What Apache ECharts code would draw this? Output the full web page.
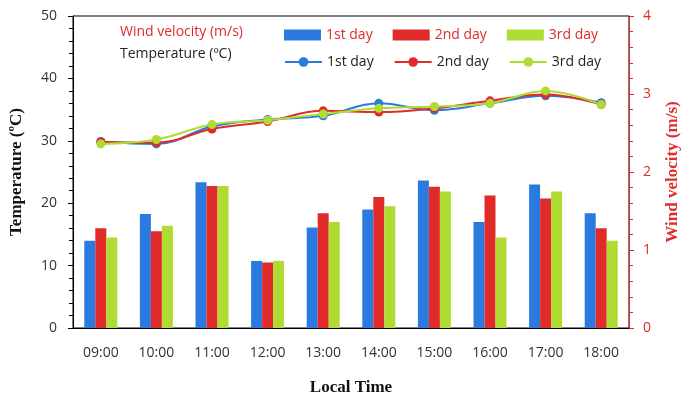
<!DOCTYPE html>
<html>
<head>
<meta charset="utf-8">
<script src="https://cdn.jsdelivr.net/npm/echarts@6/dist/echarts.min.js"></script>
<style>
  html, body { margin: 0; padding: 0; background: #fff; }
  #chart { width: 681px; height: 396px; }
</style>
</head>
<body>
<div id="chart"></div>
<script>
const hours = ["09:00", "10:00", "11:00", "12:00", "13:00", "14:00", "15:00", "16:00", "17:00", "18:00"];
const dayNames = ["1st day", "2nd day", "3rd day"];

// wind velocity (m/s), bars, right axis
const wind1 = [1.12, 1.46, 1.87, 0.86, 1.29, 1.52, 1.89, 1.36, 1.84, 1.47];
const wind2 = [1.28, 1.24, 1.82, 0.84, 1.47, 1.68, 1.81, 1.70, 1.66, 1.28];
const wind3 = [1.16, 1.31, 1.82, 0.86, 1.36, 1.56, 1.75, 1.16, 1.75, 1.12];

// temperature (°C), lines, left axis
const temp1 = [29.9, 29.5, 32.3, 33.4, 34.0, 36.0, 34.9, 36.0, 37.2, 36.1];
const temp2 = [29.8, 29.7, 31.9, 33.1, 34.8, 34.6, 35.2, 36.4, 37.4, 35.8];
const temp3 = [29.5, 30.2, 32.6, 33.3, 34.3, 35.2, 35.5, 36.0, 38.0, 35.8];

const colors = ["#2a7ae0", "#e12b2b", "#aedc32"];
const tickFont = { fontFamily: "Open Sans", fontSize: 14 };

const chart = echarts.init(document.getElementById("chart"));

const barSeries = [wind1, wind2, wind3].map((d, i) => ({
  name: "w" + i,
  type: "bar",
  yAxisIndex: 1,
  data: d,
  barWidth: 11,
  barGap: "0%",
  itemStyle: { color: colors[i] },
  emphasis: { disabled: true },
}));

const lineSeries = [temp1, temp2, temp3].map((d, i) => ({
  name: "t" + i,
  type: "line",
  yAxisIndex: 0,
  data: d,
  smooth: 0.4,
  symbol: "circle",
  symbolSize: 9,
  lineStyle: { color: colors[i], width: 2 },
  itemStyle: { color: colors[i] },
  emphasis: { disabled: true },
}));

chart.setOption({
  animation: false,
  grid: {
    left: 73, right: 52, top: 16, bottom: 68,
    outerBoundsMode: "none",
    containLabel: false,
    show: true, borderColor: "#000", borderWidth: 1,
  },
  legend: [
    {
      data: ["w0", "w1", "w2"],
      formatter: (n) => dayNames[+n[1]],
      left: 279, top: 23,
      icon: "rect",
      itemWidth: 37, itemHeight: 11, itemGap: 20,
      selectedMode: false,
      textStyle: { color: "#e12b2b", fontFamily: "Open Sans", fontSize: 14 },
    },
    {
      data: ["t0", "t1", "t2"],
      formatter: (n) => dayNames[+n[1]],
      left: 279, top: 50,
      itemWidth: 37, itemHeight: 12, itemGap: 20,
      selectedMode: false,
      textStyle: { color: "#222", fontFamily: "Open Sans", fontSize: 14 },
    },
  ],
  graphic: [
    { type: "text", left: 120, top: 25, style: { text: "Wind velocity (m/s)", fill: "#e12b2b", font: "14px 'Open Sans'" } },
    { type: "text", left: 120, top: 47, style: { text: "Temperature (\u00baC)", fill: "#222", font: "14px 'Open Sans'" } },
  ],
  xAxis: {
    type: "category",
    data: hours,
    name: "Local Time",
    nameLocation: "middle",
    nameGap: 51,
    nameTextStyle: { fontFamily: "Liberation Serif", fontWeight: "bold", fontSize: 17, color: "#111" },
    axisLine: { lineStyle: { color: "#000" } },
    axisTick: { alignWithLabel: true, length: 5, lineStyle: { color: "#000" } },
    axisLabel: { color: "#333", margin: 18, ...tickFont },
  },
  yAxis: [
    {
      type: "value",
      min: 0, max: 50, interval: 10,
      name: "Temperature (\u00baC)",
      nameLocation: "middle",
      nameGap: 48,
      nameTextStyle: { fontFamily: "Liberation Serif", fontWeight: "bold", fontSize: 17, color: "#111" },
      axisLine: { show: true, lineStyle: { color: "#000" } },
      axisTick: { show: true, length: 5, lineStyle: { color: "#000" } },
      minorTick: { show: true, splitNumber: 5, length: 4, lineStyle: { color: "#000" } },
      splitLine: { show: false },
      axisLabel: { color: "#333", margin: 16, ...tickFont },
    },
    {
      type: "value",
      min: 0, max: 4, interval: 1,
      position: "right",
      name: "Wind velocity (m/s)",
      nameLocation: "middle",
      nameGap: 35,
      nameRotate: 90,
      nameTextStyle: { fontFamily: "Liberation Serif", fontWeight: "bold", fontSize: 17, color: "#e12b2b" },
      axisLine: { show: true, lineStyle: { color: "#e12b2b" } },
      axisTick: { show: true, length: 5, lineStyle: { color: "#e12b2b" } },
      minorTick: { show: true, splitNumber: 5, length: 4, lineStyle: { color: "#e12b2b" } },
      splitLine: { show: false },
      axisLabel: { color: "#e12b2b", margin: 14, ...tickFont },
    },
  ],
  series: [...barSeries, ...lineSeries],
});
</script>
</body>
</html>
